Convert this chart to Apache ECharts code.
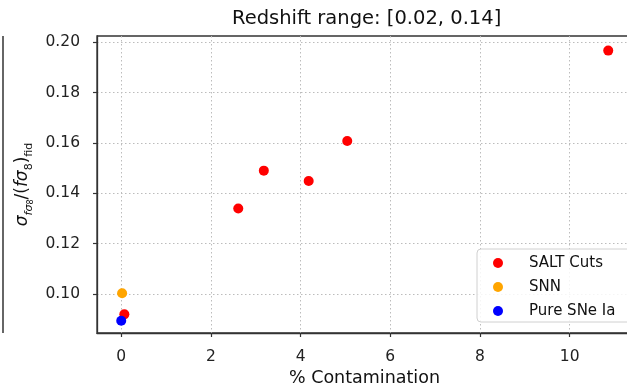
<!DOCTYPE html>
<html>
<head>
<meta charset="utf-8">
<script src="https://cdn.jsdelivr.net/npm/echarts@6/dist/echarts.min.js"></script>
<style>html,body{margin:0;padding:0;background:#fff}#c{width:627px;height:387px}</style>
</head>
<body>
<div id="c"></div>
<script>
// Data
var saltX = [10.86, 2.61, 3.18, 4.18, 5.04, 0.07];
var saltY = [0.1967, 0.1340, 0.1490, 0.1449, 0.1608, 0.0919];
var snnX = [0.02];
var snnY = [0.1003];
var pureX = [0.0];
var pureY = [0.0894];
var seriesNames = ['SALT Cuts', 'SNN', 'Pure SNe Ia'];
var xTicks = [0, 2, 4, 6, 8, 10];
var yTicks = [0.10, 0.12, 0.14, 0.16, 0.18, 0.20];
var titleText = 'Redshift range: [0.02, 0.14]';
var xName = '% Contamination';

function pairs(xs, ys) { return xs.map(function (x, i) { return [x, ys[i]]; }); }

var FONT = 'DejaVu Sans';
var chart = echarts.init(document.getElementById('c'), null, { renderer: 'canvas' });
var gridLine = { show: true, lineStyle: { color: '#bcbcbc', type: [1.5, 2.5], width: 1 } };
chart.setOption({
  animation: false,
  backgroundColor: '#fff',
  textStyle: { fontFamily: FONT },
  title: {
    text: titleText, left: 232, top: 9, padding: 0,
    textStyle: { fontFamily: FONT, fontSize: 19.5, fontWeight: 'normal', color: '#111' }
  },
  grid: {
    left: 97, top: 36, right: -5, bottom: 54, containLabel: false, outerBoundsMode: 'none',
    show: true, borderColor: '#333', borderWidth: 1.3, backgroundColor: 'transparent'
  },
  legend: {
    orient: 'vertical', left: 477, top: 249,
    padding: [6, 20, 3, 16],
    itemWidth: 10, itemHeight: 10, itemGap: 8,
    icon: 'circle',
    backgroundColor: 'rgba(255,255,255,0.85)',
    borderColor: '#d0d0d0', borderWidth: 1, borderRadius: 4,
    textStyle: { fontFamily: FONT, fontSize: 15, color: '#111', lineHeight: 16, padding: [0, 0, 0, 21] },
    data: seriesNames
  },
  xAxis: {
    type: 'value', min: -0.54, max: 11.39,
    name: xName, nameLocation: 'middle', nameGap: 36,
    nameTextStyle: { fontFamily: FONT, fontSize: 17.5, color: '#111' },
    axisLine: { show: true, onZero: false, lineStyle: { color: '#333', width: 1.3 } },
    axisTick: { show: true, length: 4, customValues: xTicks, lineStyle: { color: '#333', width: 1.2 } },
    axisLabel: { customValues: xTicks, margin: 16, fontSize: 15.5, color: '#222', fontFamily: FONT,
      formatter: function (v) { return String(v); } },
    splitLine: gridLine
  },
  yAxis: {
    type: 'value', min: 0.0845, max: 0.2025,
    name: '{i|σ}{si|fσ}{ss|8}{a|/(}{i|fσ}{s|8}{a|)}{s|fid}', nameLocation: 'middle', nameGap: 58, nameRotate: 90,
    nameTextStyle: {
      fontFamily: FONT, color: '#111',
      rich: {
        a: { fontFamily: FONT, fontSize: 17, lineHeight: 24, verticalAlign: 'middle', color: '#111' },
        i: { fontFamily: FONT, fontSize: 17, fontStyle: 'italic', lineHeight: 24, verticalAlign: 'middle', color: '#111' },
        s: { fontFamily: FONT, fontSize: 11, lineHeight: 12, verticalAlign: 'bottom', color: '#111' },
        si: { fontFamily: FONT, fontSize: 11, fontStyle: 'italic', lineHeight: 12, verticalAlign: 'bottom', color: '#111' },
        ss: { fontFamily: FONT, fontSize: 8, lineHeight: 8, verticalAlign: 'bottom', color: '#111' }
      }
    },
    axisLine: { show: true, onZero: false, lineStyle: { color: '#333', width: 1.3 } },
    axisTick: { show: true, length: 4, customValues: yTicks, lineStyle: { color: '#333', width: 1.2 } },
    axisLabel: { customValues: yTicks, margin: 17, fontSize: 15.5, color: '#222', fontFamily: FONT,
      formatter: function (v) { return v.toFixed(2); } },
    splitLine: gridLine
  },
  graphic: [{
    type: 'line', silent: true,
    shape: { x1: 3, y1: 36, x2: 3, y2: 333 },
    style: { stroke: '#333', lineWidth: 1.5 }
  }],
  series: [
    { name: seriesNames[0], type: 'scatter', symbol: 'circle', symbolSize: 10, itemStyle: { color: '#ff0000', opacity: 1 }, data: pairs(saltX, saltY) },
    { name: seriesNames[1], type: 'scatter', symbol: 'circle', symbolSize: 10, itemStyle: { color: '#ffa500', opacity: 1 }, data: pairs(snnX, snnY) },
    { name: seriesNames[2], type: 'scatter', symbol: 'circle', symbolSize: 10, itemStyle: { color: '#0000ff', opacity: 1 }, data: pairs(pureX, pureY) }
  ]
});
</script>
</body>
</html>
